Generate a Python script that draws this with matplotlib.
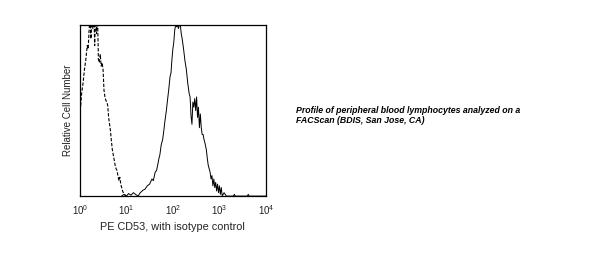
import numpy as np
import matplotlib.pyplot as plt

plt.rcParams['font.family'] = ['Liberation Sans', 'DejaVu Sans']
plt.rcParams['mathtext.default'] = 'regular'

# isotype control (dashed): log10 fluorescence, relative count
iso_logx = [0.00, 0.02, 0.04, 0.07, 0.10, 0.13, 0.16, 0.18, 0.20, 0.22, 0.24, 0.26,
            0.28, 0.30, 0.32, 0.34, 0.36, 0.38, 0.40, 0.42, 0.44, 0.46, 0.48, 0.50,
            0.52, 0.54, 0.56, 0.58, 0.60, 0.62, 0.64, 0.66, 0.68, 0.70, 0.72, 0.74,
            0.76, 0.78, 0.80, 0.82, 0.84, 0.86, 0.88, 0.90, 0.92, 0.95, 0.98, 1.00]
iso_y = [0.50, 0.53, 0.60, 0.66, 0.74, 0.80, 0.88, 0.86, 0.97, 1.05, 0.92, 1.08,
         0.98, 1.10, 0.88, 1.06, 0.95, 1.08, 0.80, 0.78, 0.83, 0.76, 0.78, 0.74,
         0.62, 0.58, 0.56, 0.55, 0.53, 0.46, 0.42, 0.38, 0.32, 0.27, 0.24, 0.21,
         0.18, 0.16, 0.15, 0.12, 0.09, 0.11, 0.07, 0.05, 0.03, 0.01, 0.005, 0.0]

# PE CD53 stained (solid)
cd53_logx = [0.90, 0.95, 1.00, 1.05, 1.10, 1.15, 1.20, 1.25, 1.30, 1.36, 1.40, 1.45,
             1.50, 1.55, 1.58, 1.62, 1.65, 1.68, 1.70, 1.72, 1.75, 1.78, 1.80, 1.83,
             1.86, 1.88, 1.91, 1.94, 1.96, 1.98, 2.00, 2.02, 2.04, 2.06, 2.08, 2.10,
             2.12, 2.14, 2.16, 2.18, 2.20, 2.23, 2.26, 2.29, 2.32, 2.35, 2.37, 2.39,
             2.41, 2.43, 2.45, 2.47, 2.49, 2.51, 2.53, 2.55, 2.57, 2.59, 2.61, 2.63,
             2.65, 2.67, 2.69, 2.72, 2.74, 2.76, 2.78, 2.80, 2.82, 2.84, 2.86, 2.88,
             2.90, 2.92, 2.94, 2.96, 2.98, 3.00, 3.02, 3.04, 3.06, 3.10, 3.15, 3.30,
             3.32, 3.34, 3.60, 3.62, 3.64, 4.00]
cd53_y = [0.00, 0.01, 0.00, 0.015, 0.005, 0.02, 0.01, 0.00, 0.02, 0.035, 0.04, 0.06,
          0.07, 0.10, 0.09, 0.14, 0.15, 0.19, 0.22, 0.24, 0.30, 0.33, 0.37, 0.44,
          0.50, 0.55, 0.62, 0.70, 0.72, 0.80, 0.86, 0.90, 0.97, 1.00, 0.99, 1.00,
          0.98, 1.00, 1.00, 0.95, 0.92, 0.86, 0.79, 0.74, 0.66, 0.60, 0.58, 0.47,
          0.42, 0.55, 0.52, 0.57, 0.50, 0.58, 0.46, 0.52, 0.40, 0.48, 0.40, 0.36,
          0.36, 0.33, 0.31, 0.27, 0.22, 0.18, 0.16, 0.14, 0.10, 0.12, 0.06, 0.10,
          0.05, 0.08, 0.03, 0.07, 0.02, 0.06, 0.01, 0.05, 0.00, 0.02, 0.00, 0.00,
          0.01, 0.00, 0.00, 0.01, 0.00, 0.00]

decades = [1, 10, 100, 1000, 10000]

fig = plt.figure(figsize=(5.91, 2.56), dpi=100)
ax = fig.add_axes([0.135, 0.234, 0.315, 0.668])

ax.plot(10 ** np.array(iso_logx), iso_y, color='black', lw=0.8, ls=(0, (3, 1.5)))
ax.plot(10 ** np.array(cd53_logx), cd53_y, color='black', lw=0.7)

ax.set_xscale('log')
ax.set_xlim(decades[0], decades[-1])
ax.set_ylim(0, 1.0)
ax.set_xticks(decades)
ax.minorticks_off()
ax.set_yticks([])
ax.tick_params(axis='x', length=0, pad=5, labelsize=7, colors='#222222')
for s in ax.spines.values():
    s.set_linewidth(0.9)

ax.set_xlabel('PE CD53, with isotype control', fontsize=7.8, labelpad=4, color='#222222')
ax.set_ylabel('Relative Cell Number', fontsize=7, labelpad=5, color='#222222')

fig.text(0.501, 0.549, 'Profile of peripheral blood lymphocytes analyzed on a\nFACScan (BDIS, San Jose, CA)',
         fontsize=6.3, fontweight='bold', fontstyle='italic', va='center', ha='left',
         linespacing=1.1)

fig.savefig('out.png', dpi=100, facecolor='white')
